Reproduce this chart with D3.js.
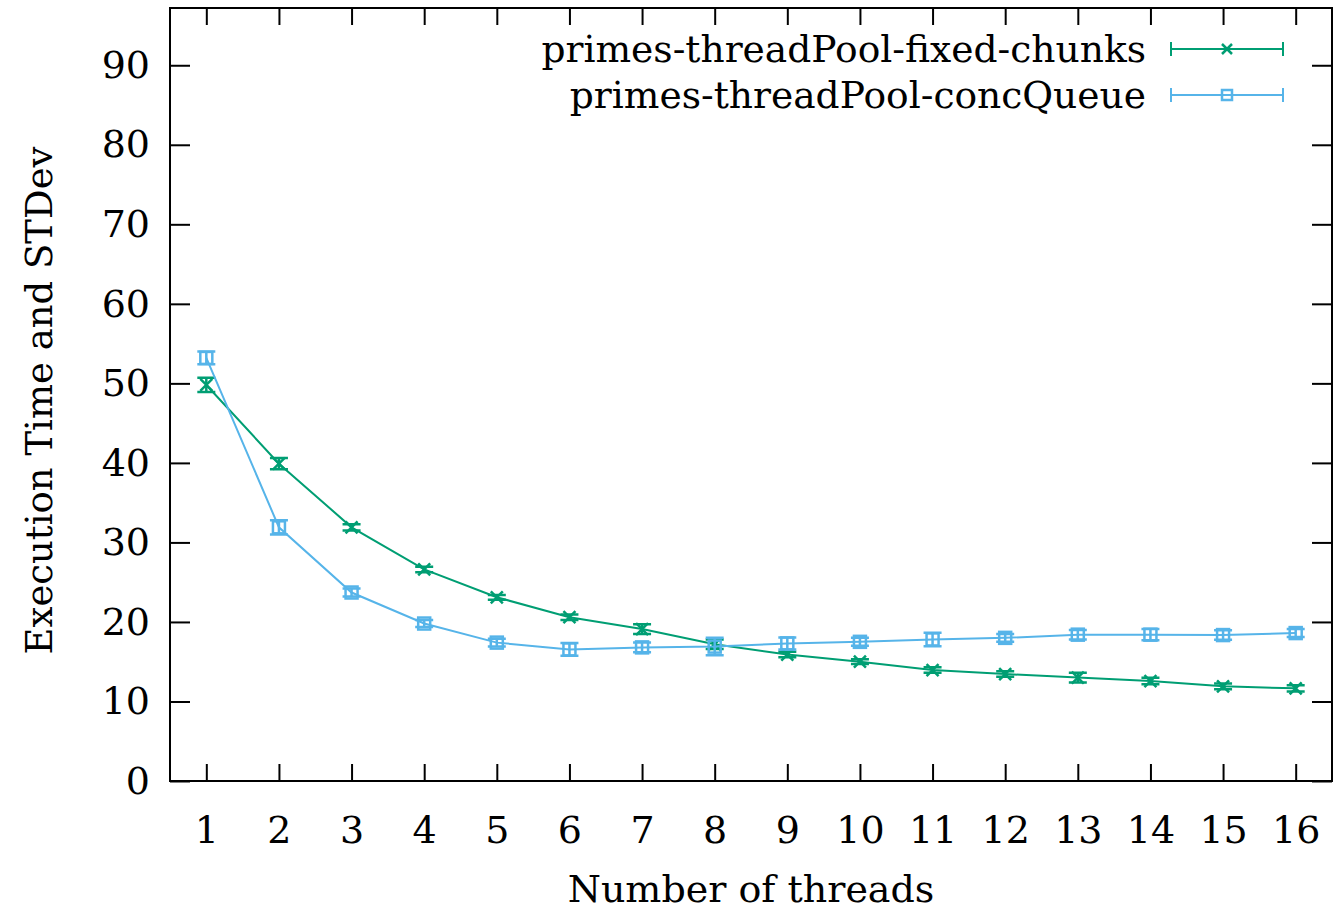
<!DOCTYPE html>
<html>
<head>
<meta charset="utf-8">
<script src="https://cdn.jsdelivr.net/npm/d3@7"></script>
<style>
	body { margin: 0; background: #fff; }
	text { font-family: "DejaVu Serif", serif; fill: #000; }
</style>
</head>
<body>
<svg width="1334" height="913"></svg>
<script>
// thread counts on the x axis
const threads = [1, 2, 3, 4, 5, 6, 7, 8, 9, 10, 11, 12, 13, 14, 15, 16]
const yTicks = [0, 10, 20, 30, 40, 50, 60, 70, 80, 90]

// primes-threadPool-fixed-chunks
const fixedMean = [49.8, 39.9, 31.9, 26.6, 23.1, 20.6, 19.1, 17.2, 15.9, 15.0, 13.95, 13.45, 13.0, 12.57, 11.9, 11.65]
const fixedDev = [0.9, 0.7, 0.4, 0.35, 0.3, 0.35, 0.6, 0.6, 0.35, 0.3, 0.35, 0.35, 0.6, 0.4, 0.35, 0.4]

// primes-threadPool-concQueue
const queueMean = [53.2, 31.9, 23.7, 19.8, 17.4, 16.55, 16.8, 16.9, 17.3, 17.5, 17.8, 18.0, 18.4, 18.4, 18.35, 18.6]
const queueDev = [0.8, 0.9, 0.5, 0.45, 0.5, 0.8, 0.6, 1.1, 0.75, 0.5, 0.85, 0.5, 0.6, 0.7, 0.6, 0.5]

const seriesNames = ["primes-threadPool-fixed-chunks", "primes-threadPool-concQueue"]
const seriesColors = ["#009e73", "#56b4e9"]

const svg = d3.select("svg")
const plot = { left: 170, right: 1332, top: 8, bottom: 781 }

const x = d3.scaleLinear().domain([0.5, 16.5]).range([plot.left, plot.right])
const y = d3.scaleLinear().domain([0, 97.2]).range([plot.bottom, plot.top])

// axes, ticks point inwards and are mirrored like gnuplot
svg.append("g")
	.attr("transform", `translate(0,${plot.bottom})`)
	.call(d3.axisBottom(x).tickValues(threads).tickSize(-17).tickPadding(35).tickSizeOuter(0))
svg.append("g")
	.attr("transform", `translate(0,${plot.top})`)
	.call(d3.axisTop(x).tickValues(threads).tickSize(-17).tickFormat("").tickSizeOuter(0))
svg.append("g")
	.attr("transform", `translate(${plot.left},0)`)
	.call(d3.axisLeft(y).tickValues(yTicks).tickSize(-20).tickPadding(20).tickSizeOuter(0))
svg.append("g")
	.attr("transform", `translate(${plot.right},0)`)
	.call(d3.axisRight(y).tickValues(yTicks).tickSize(-20).tickFormat("").tickSizeOuter(0))

svg.selectAll(".domain").remove()
svg.selectAll(".tick line").attr("stroke", "#000").attr("stroke-width", 2)
svg.selectAll(".tick text").style("font-size", "38px").style("font-family", "DejaVu Serif")

svg.append("rect")
	.attr("x", plot.left).attr("y", plot.top)
	.attr("width", plot.right - plot.left).attr("height", plot.bottom - plot.top)
	.attr("fill", "none").attr("stroke", "#000").attr("stroke-width", 2)

svg.append("text")
	.attr("transform", `translate(52,${(plot.top + plot.bottom) / 2 + 6}) rotate(-90)`)
	.attr("text-anchor", "middle")
	.style("font-size", "37px")
	.text("Execution Time and STDev")

svg.append("text")
	.attr("x", (plot.left + plot.right) / 2).attr("y", 902)
	.attr("text-anchor", "middle")
	.style("font-size", "38px")
	.text("Number of threads")

const capW = 9

function drawCross(g, cx, cy, color, s) {
	g.append("path")
		.attr("d", `M${cx - s},${cy - s}L${cx + s},${cy + s}M${cx - s},${cy + s}L${cx + s},${cy - s}`)
		.attr("stroke", color).attr("stroke-width", 2.5).attr("fill", "none")
}
function drawSquare(g, cx, cy, color, s) {
	g.append("rect")
		.attr("x", cx - s).attr("y", cy - s).attr("width", 2 * s).attr("height", 2 * s)
		.attr("stroke", color).attr("stroke-width", 2.5).attr("fill", "none")
}

function drawSeries(means, devs, color, marker) {
	const data = threads.map((t, i) => ({ t: t, m: means[i], d: devs[i] }))
	const g = svg.append("g")
	g.append("path")
		.datum(data)
		.attr("fill", "none")
		.attr("stroke", color)
		.attr("stroke-width", 2)
		.attr("d", d3.line().x(d => x(d.t)).y(d => y(d.m)))
	data.forEach(d => {
		const cx = x(d.t), y0 = y(d.m - d.d), y1 = y(d.m + d.d)
		g.append("path")
			.attr("d", `M${cx},${y0}L${cx},${y1}M${cx - capW},${y0}L${cx + capW},${y0}M${cx - capW},${y1}L${cx + capW},${y1}`)
			.attr("stroke", color).attr("stroke-width", 2.5).attr("fill", "none")
		marker(g, cx, y(d.m), color, 6)
	})
}

drawSeries(fixedMean, fixedDev, seriesColors[0], drawCross)
drawSeries(queueMean, queueDev, seriesColors[1], drawSquare)

// key
const keyRows = [49, 95]
const markers = [drawCross, drawSquare]
seriesNames.forEach((name, i) => {
	const ky = keyRows[i]
	const g = svg.append("g")
	g.append("text")
		.attr("x", 1146).attr("y", ky)
		.attr("dy", "0.35em")
		.attr("text-anchor", "end")
		.style("font-size", "37.6px")
		.text(name)
	g.append("path")
		.attr("d", `M1171,${ky}L1283,${ky}M1171,${ky - 7}L1171,${ky + 7}M1283,${ky - 7}L1283,${ky + 7}`)
		.attr("stroke", seriesColors[i]).attr("stroke-width", 2).attr("fill", "none")
	markers[i](g, 1227, ky, seriesColors[i], 5)
})
</script>
</body>
</html>
